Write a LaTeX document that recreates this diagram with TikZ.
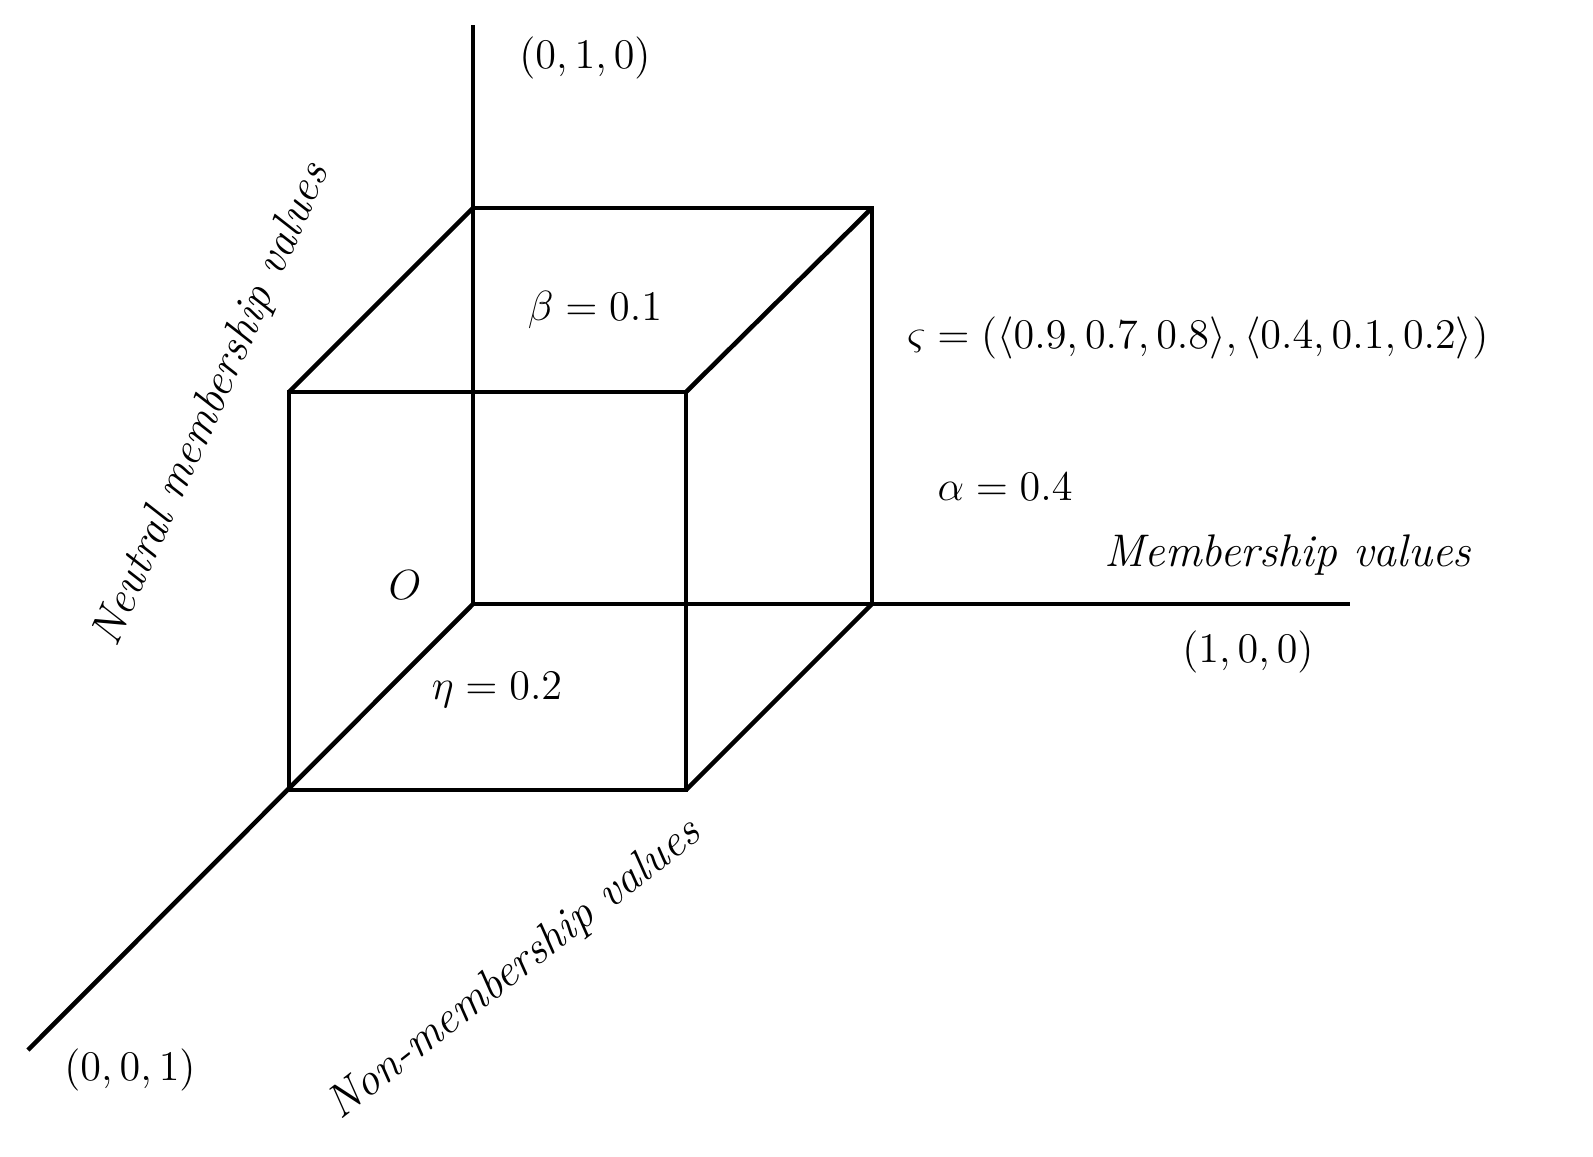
\documentclass[tikz,border=0pt]{standalone}
\begin{document}
\begin{tikzpicture}[x=0.01cm,y=-0.01cm,line width=1.3pt,
  lab/.style={font=\fontsize{13}{16}\selectfont,inner sep=0pt}]
\useasboundingbox (0,0) rectangle (1593,1157);
\coordinate (O) at (473,604);
\coordinate (Y) at (473,25);
\coordinate (X) at (1350,604);
\coordinate (Z) at (28,1050);
\coordinate (b1) at (473,208); \coordinate (b2) at (872,208); \coordinate (b3) at (872,604);
\coordinate (f1) at (289,392); \coordinate (f2) at (686,392); \coordinate (f3) at (686,790); \coordinate (f4) at (289,790);
\draw (O) -- (Y);
\draw (O) -- (X);
\draw (O) -- (Z);
\draw (b1) -- (b2) -- (b3);
\draw (f1) -- (f2) -- (f3) -- (f4) -- cycle;
\draw (b1) -- (f1);
\draw (b2) -- (f2);
\draw (b3) -- (f3);
\node[lab] (l010) at (585,58) {$(0,1,0)$};
\node[lab] (lb) at (595,310) {$\beta=0.1$};
\node[lab,anchor=west] (ls) at (905,338) {$\varsigma=(\langle0.9,0.7,0.8\rangle,\langle0.4,0.1,0.2\rangle)$};
\node[lab] (la) at (1005,487) {$\alpha=0.4$};
\node[lab] (lm) at (1288,555) {\textit{Membership values}};
\node[lab] (l100) at (1248,652) {$(1,0,0)$};
\node[lab] (lO) at (405,585) {$O$};
\node[lab] (le) at (497,690) {$\eta=0.2$};
\node[lab,rotate=38] (ln) at (515,970) {\textit{Non-membership values}};
\node[lab,rotate=66] (lnm) at (212,405) {\textit{Neutral membership values}};
\node[lab] (l001) at (130,1070) {$(0,0,1)$};
\end{tikzpicture}
\end{document}
